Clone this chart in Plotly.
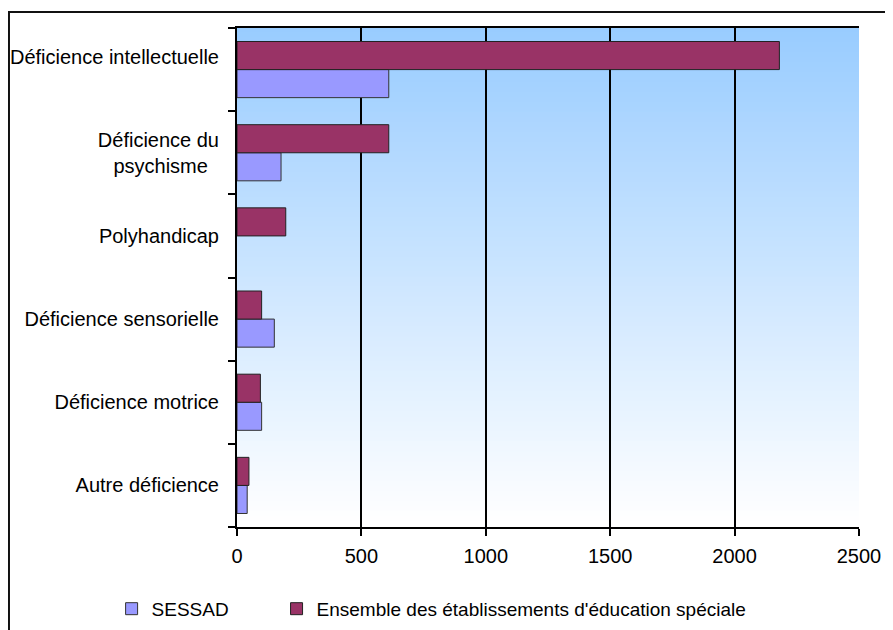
import plotly.graph_objects as go

categories = ["Déficience intellectuelle<br>\u00a0", "Déficience du<br>psychisme\u00a0\u00a0", "Polyhandicap",
              "Déficience sensorielle", "Déficience motrice", "Autre déficience"]
sessad = [610, 177, 0, 150, 99, 41]
ensemble = [2180, 610, 196, 99, 94, 48]
x_ticks = [0, 500, 1000, 1500, 2000, 2500]

FONT = "Liberation Sans, Arial, sans-serif"

fig = go.Figure()
fig.add_trace(go.Bar(
    y=categories, x=sessad, orientation="h", name="SESSAD",
    marker=dict(color="#9999FF",
                line=dict(color="#333333", width=[0 if v == 0 else 1 for v in sessad])),
    legend="legend",
))
fig.add_trace(go.Bar(
    y=categories, x=ensemble, orientation="h",
    name="Ensemble des établissements d'éducation spéciale",
    marker=dict(color="#993366", line=dict(color="#222222", width=1)),
    legend="legend2",
))

# vertical gradient background (light blue at top to white at bottom)
shapes = []
n = 100
top = (153, 204, 255)
bot = (255, 255, 255)
for i in range(n):
    t = i / (n - 1)
    c = tuple(round(top[k] + (bot[k] - top[k]) * t) for k in range(3))
    y1 = 1 - i / n
    y0 = 1 - (i + 1) / n
    shapes.append(dict(type="rect", xref="x domain", yref="y domain",
                       x0=0, x1=1, y0=y0, y1=y1 + 0.002,
                       fillcolor="rgb(%d,%d,%d)" % c, line=dict(width=0),
                       layer="below"))
# outer chart frame
shapes.append(dict(type="rect", xref="paper", yref="paper",
                   x0=-0.3666, x1=1.2, y0=-0.4, y1=1.032,
                   line=dict(color="#111111", width=2), fillcolor="rgba(0,0,0,0)",
                   layer="above"))

legend_common = dict(orientation="h", yanchor="middle", xanchor="left",
                     font=dict(family=FONT, size=19, color="black"),
                     bgcolor="rgba(0,0,0,0)")

fig.update_layout(
    width=885, height=622,
    margin=dict(l=229, r=34, t=20, b=103, autoexpand=False),
    paper_bgcolor="white", plot_bgcolor="white",
    barmode="group", bargap=0.325, bargroupgap=0,
    font=dict(family=FONT, size=20, color="black"),
    shapes=shapes,
    showlegend=True,
    legend=dict(x=-0.2016, y=-0.164, **legend_common),
    legend2=dict(x=0.0636, y=-0.164, **legend_common),
)
fig.update_xaxes(
    range=[0, 2500], tickvals=x_ticks, ticktext=[str(v) for v in x_ticks],
    showgrid=True, gridcolor="black", gridwidth=1.5,
    showline=True, linecolor="black", linewidth=2, mirror=True,
    ticks="outside", ticklen=7, tickcolor="black", tickwidth=1.5,
    zeroline=False, ticklabelstandoff=3, automargin=False,
)
fig.update_yaxes(
    categoryorder="array", categoryarray=categories[::-1],
    showgrid=False, showline=True, linecolor="black", linewidth=2,
    ticks="outside", ticklen=7, tickcolor="black", tickwidth=1.5,
    tickson="boundaries", ticklabelstandoff=12, automargin=False,
)

fig.write_html("out.html")
